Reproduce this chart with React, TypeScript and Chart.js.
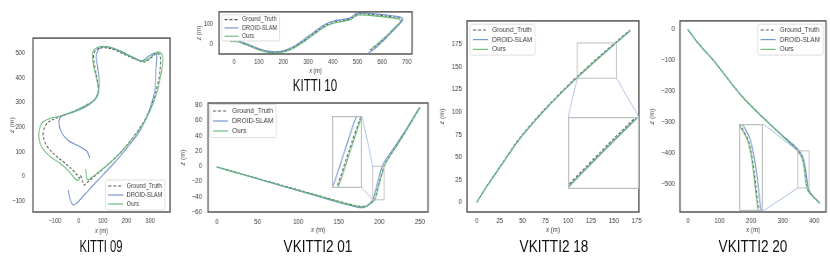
import React, { useEffect, useRef } from 'react';
import { Chart, registerables } from 'chart.js';

Chart.register(...registerables);

type XY = [number, number][];

const FONT = '"Liberation Sans", Arial, Helvetica, sans-serif';
const C_GT = '#505050';
const C_DROID = '#6a8dcc';
const C_OURS = '#62b874';
const C_FRAME = '#555555';
const C_TEXT = '#3a3a3a';
const C_ZOOM = '#bdbdbd';
const C_LINK = '#9db7e0';

const SERIES_NAMES = ['Ground_Truth', 'DROID-SLAM', 'Ours'];

// ---------------- KITTI 09 ----------------
const kitti09GroundTruth: XY = [
  [8, 4], [15, -19], [21, -35], [35, -25], [67, 1], [116, 43], [173, 95], [229, 160], [278, 231],
  [313, 309], [334, 387], [344, 458], [341, 491], [327, 500], [306, 484], [278, 465], [250, 471],
  [201, 491], [152, 513], [109, 523], [77, 517], [63, 497], [67, 445], [79, 387], [81, 342],
  [67, 313], [32, 290], [-17, 266], [-73, 244], [-108, 231], [-136, 212], [-150, 173], [-136, 127],
  [-101, 88], [-52, 49], [-17, 17], [4, -9],
];
const kitti09Droid: XY = [
  [46, 75], [35, 101], [4, 121], [-45, 147], [-73, 179], [-83, 218], [-73, 244], [-24, 261],
  [35, 286], [74, 322], [86, 374], [79, 445], [74, 491], [88, 521], [124, 526], [173, 510],
  [229, 484], [264, 469], [292, 487], [316, 500], [327, 495], [324, 432], [320, 355], [299, 277],
  [257, 186], [201, 114], [138, 43], [74, -22], [18, -81], [-13, -113], [-27, -113], [-38, -87], [-45, -55],
];
const kitti09Ours: XY = [
  [29, 30], [34, -12], [44, -12], [74, 10], [124, 49], [180, 101], [236, 166], [285, 238],
  [320, 316], [341, 394], [352, 465], [348, 497], [327, 504], [306, 487], [275, 468], [243, 475],
  [194, 497], [145, 521], [102, 529], [72, 521], [58, 500], [63, 445], [77, 387], [83, 342],
  [70, 313], [35, 290], [-17, 266], [-80, 244], [-122, 235], [-153, 218], [-168, 173], [-157, 121],
  [-122, 82], [-73, 49], [-38, 17], [-17, -9], [-3, -16], [7, -3],
];
const kitti09XTicks = [-100, 0, 100, 200, 300];
const kitti09YTicks = [-100, 0, 100, 200, 300, 400, 500];

// ---------------- KITTI 10 ----------------
const kitti10GroundTruth: XY = [
  [-16, 15], [0, 17], [15, 16], [35, 8], [60, -4], [85, -16], [110, -27], [138, -35], [165, -38],
  [190, -36], [220, -26], [250, -8], [280, 15], [310, 41], [340, 68], [370, 92], [400, 107],
  [440, 116], [470, 124], [490, 140], [505, 148], [550, 146], [600, 140], [640, 134], [670, 128],
  [679, 117], [660, 90], [632, 56], [605, 25], [575, -8], [550, -28],
];
const kitti10Droid: XY = [
  [-16, 17], [0, 19], [15, 18], [35, 11], [60, -1], [85, -13], [110, -24], [138, -32], [165, -35],
  [190, -33], [220, -22], [250, -3], [280, 21], [310, 47], [340, 74], [370, 98], [400, 113],
  [440, 121], [470, 129], [490, 146], [505, 153], [550, 151], [600, 145], [640, 139], [673, 133],
  [684, 121], [664, 92], [636, 56], [608, 22], [577, -13], [545, -40],
];
const kitti10Ours: XY = [
  [-16, 14], [0, 15], [15, 13], [35, 5], [60, -7], [85, -19], [110, -30], [138, -38], [165, -41],
  [190, -39], [220, -29], [250, -12], [280, 11], [310, 37], [340, 63], [370, 87], [400, 102],
  [440, 112], [470, 120], [490, 135], [505, 143], [550, 141], [600, 135], [640, 129], [668, 123],
  [675, 113], [655, 87], [627, 53], [600, 23], [575, -3], [560, -15],
];
const kitti10XTicks = [0, 100, 200, 300, 400, 500, 600, 700];
const kitti10YTicks = [0, 100];

// ---------------- VKITTI2 01 ----------------
const vkitti01GroundTruth: XY = [
  [0, -1], [40, -13], [80, -25], [120, -37], [150, -46], [168, -51], [178, -53], [185, -51.5],
  [190, -48], [194, -44], [200, -21], [205.7, 0], [212, 12], [222, 28], [235, 50], [250, 77],
];
const vkitti01Droid: XY = [
  [0, -1], [40, -13.5], [80, -26], [120, -38], [150, -47.5], [168, -52.5], [177, -54.5], [183, -53],
  [188, -49], [192, -44], [198, -21], [203.5, 0], [210, 12], [220.5, 28], [234, 50], [249.5, 77.5],
];
const vkitti01Ours: XY = [
  [0, -1], [40, -13], [80, -25.5], [120, -37.5], [150, -46.5], [168, -51.5], [178, -53.5], [185, -52],
  [190.3, -48], [194.6, -44], [200.6, -21], [206.1, 0], [212.3, 12], [222.3, 28], [235, 50], [250, 77],
];
const vkitti01XTicks = [0, 50, 100, 150, 200, 250];
const vkitti01YTicks = [-60, -40, -20, 0, 20, 40, 60, 80];

// ---------------- VKITTI2 18 ----------------
const vkitti18GroundTruth: XY = [
  [0, 0], [10, 16.5], [25, 39], [46, 70], [75, 104], [107, 136.6], [138, 165], [168, 191],
];
const vkitti18Droid: XY = [
  [0, 0], [10, 16], [25, 38.2], [46, 69], [75, 102.8], [107, 135.3], [138, 163.7], [168, 190],
];
const vkitti18Ours: XY = [
  [0, 0], [10, 16.2], [25, 38.4], [46, 69.3], [75, 103.2], [107, 135.7], [138, 164.1], [168, 190.3],
];
const vkitti18XTicks = [0, 25, 50, 75, 100, 125, 150, 175];
const vkitti18YTicks = [0, 25, 50, 75, 100, 125, 150, 175];

// ---------------- VKITTI2 20 ----------------
const vkitti20GroundTruth: XY = [
  [0, 0], [25, -35], [50, -65], [75, -93], [110, -138], [140, -178], [175, -221], [220, -268],
  [270, -317], [310, -355], [335, -378], [350, -395], [360, -412], [365, -428], [369, -450],
  [372, -475], [375, -500], [378, -515], [385, -528], [398, -543], [418, -563],
];
const vkitti20Droid: XY = [
  [0, 0], [25, -35], [50, -65], [75, -93], [110, -138], [140, -178], [175, -221], [220, -268],
  [270, -316], [310, -353], [336, -375], [352, -392], [362.5, -410], [368, -428], [372, -450],
  [375.5, -475], [378.5, -500], [381, -515], [387, -528], [399, -543], [418, -563],
];
const vkitti20Ours: XY = [
  [0, 0], [25, -35], [50, -65], [75, -93], [110, -138], [140, -178], [175, -221], [220, -268],
  [270, -317], [310, -356], [334, -379], [349, -396], [359, -412], [364, -428], [368, -450],
  [371, -475], [374, -500], [377, -516], [384, -529], [398, -544], [418, -563],
];
const vkitti20XTicks = [0, 100, 200, 300, 400];
const vkitti20YTicks = [-500, -400, -300, -200, -100, 0];

// ---------------- layout ----------------
interface LegendSpec {
  corner: 'ul' | 'ur' | 'lr';
  dx: number; dy: number; row: number; padV: number; padH: number;
  font: number; lineLen: number; gap: number;
}
interface InsetSpec {
  rect: [number, number, number, number];
  box: { left: number; top: number; w: number; h: number };
  links: [string, string][];
}
interface PanelSpec {
  frame: { left: number; top: number; w: number; h: number };
  mL: number; mT: number; mR: number; mB: number;
  sx: number; font: number;
  xRange: [number, number]; yRange: [number, number];
  xTicks: number[]; yTicks: number[];
  xLabelY: number; yLabelGap: number; xTitleY: number; yTitleX: number;
  series: XY[];
  legend: LegendSpec;
  inset?: InsetSpec;
  tension: number;
}

const panels: PanelSpec[] = [
  {
    frame: { left: 33, top: 30, w: 137, h: 182 }, mL: 33, mT: 6, mR: 4, mB: 26,
    sx: 0.81, font: 7, xRange: [-192, 383], yRange: [-145, 562],
    xTicks: kitti09XTicks, yTicks: kitti09YTicks,
    xLabelY: 221, yLabelGap: 8, xTitleY: 231, yTitleX: 12,
    series: [kitti09GroundTruth, kitti09Droid, kitti09Ours],
    legend: { corner: 'lr', dx: 5, dy: 2, row: 9, padV: 1.5, padH: 2.7, font: 7, lineLen: 15, gap: 3.5 },
    tension: 0.35,
  },
  {
    frame: { left: 219, top: 5, w: 193, h: 49 }, mL: 26, mT: 4, mR: 4, mB: 22,
    sx: 0.86, font: 6.5, xRange: [-61, 721], yRange: [-46, 158],
    xTicks: kitti10XTicks, yTicks: kitti10YTicks,
    xLabelY: 62, yLabelGap: 6, xTitleY: 71, yTitleX: 199,
    series: [kitti10GroundTruth, kitti10Droid, kitti10Ours],
    legend: { corner: 'ul', dx: 3, dy: 3, row: 8.3, padV: 0.6, padH: 2.5, font: 6.5, lineLen: 14, gap: 3.5 },
    tension: 0.35,
  },
  {
    frame: { left: 208, top: 96, w: 220, h: 116 }, mL: 32, mT: 4, mR: 4, mB: 26,
    sx: 0.88, font: 7, xRange: [-11, 260], yRange: [-60, 83],
    xTicks: vkitti01XTicks, yTicks: vkitti01YTicks,
    xLabelY: 222, yLabelGap: 6, xTitleY: 230.5, yTitleX: 183,
    series: [vkitti01GroundTruth, vkitti01Droid, vkitti01Ours],
    legend: { corner: 'ul', dx: 2, dy: 1.5, row: 10, padV: 1.5, padH: 3, font: 7.5, lineLen: 15, gap: 4 },
    inset: { rect: [192, 206, -44, 0], box: { left: 332, top: 116, w: 30, h: 72 }, links: [['tr', 'tl'], ['br', 'bl']] },
    tension: 0.2,
  },
  {
    frame: { left: 467, top: 15, w: 175, h: 197 }, mL: 30, mT: 4, mR: 4, mB: 26,
    sx: 0.88, font: 7, xRange: [-10.7, 177.5], yRange: [-10.7, 201],
    xTicks: vkitti18XTicks, yTicks: vkitti18YTicks,
    xLabelY: 221, yLabelGap: 5, xTitleY: 230.5, yTitleX: 442,
    series: [vkitti18GroundTruth, vkitti18Droid, vkitti18Ours],
    legend: { corner: 'ul', dx: 3, dy: 3.3, row: 9.7, padV: 0.9, padH: 3, font: 7.3, lineLen: 15, gap: 4 },
    inset: { rect: [110, 153, 137.5, 176.5], box: { left: 568, top: 117, w: 71, h: 72 }, links: [['tl', 'bl'], ['tr', 'br']] },
    tension: 0.2,
  },
  {
    frame: { left: 680, top: 15, w: 146, h: 197 }, mL: 34, mT: 4, mR: 3, mB: 26,
    sx: 0.88, font: 7, xRange: [-25, 437], yRange: [-591, 28],
    xTicks: vkitti20XTicks, yTicks: vkitti20YTicks,
    xLabelY: 221, yLabelGap: 5, xTitleY: 230.5, yTitleX: 652,
    series: [vkitti20GroundTruth, vkitti20Droid, vkitti20Ours],
    legend: { corner: 'ur', dx: 3, dy: 3.3, row: 9.7, padV: 0.9, padH: 3, font: 7.3, lineLen: 15, gap: 4 },
    inset: { rect: [348, 383, -513, -393], box: { left: 739, top: 124, w: 24, h: 87 }, links: [['tr', 'tl'], ['br', 'bl']] },
    tension: 0.2,
  },
];

const captions = [
  { text: 'KITTI 09', cx: 101, cy: 247, sx: 0.66 },
  { text: 'KITTI 10', cx: 315, cy: 86, sx: 0.68 },
  { text: 'VKITTI2 01', cx: 318, cy: 247, sx: 0.8 },
  { text: 'VKITTI2 18', cx: 554, cy: 247, sx: 0.8 },
  { text: 'VKITTI2 20', cx: 753, cy: 247, sx: 0.8 },
];

const fmt = (v: number) => (v < 0 ? '\u2212' + Math.abs(v) : String(v));
const toPoints = (a: XY) => a.map(([x, y]) => ({ x, y }));

function buildDatasets(series: XY[], tension: number, width: number) {
  const styles = [
    { color: C_GT, dash: [3, 2], order: 2 },
    { color: C_DROID, dash: [] as number[], order: 1 },
    { color: C_OURS, dash: [] as number[], order: 0 },
  ];
  return series.map((s, i) => ({
    label: SERIES_NAMES[i],
    data: toPoints(s),
    showLine: true,
    borderColor: styles[i].color,
    backgroundColor: styles[i].color,
    borderDash: styles[i].dash,
    borderWidth: width,
    pointRadius: 0,
    pointHoverRadius: 0,
    tension,
    fill: false,
    order: styles[i].order,
  }));
}

function drawMathTitle(ctx: CanvasRenderingContext2D, sym: string, size: number, cx: number, cy: number, rotate: boolean) {
  ctx.save();
  ctx.translate(cx, cy);
  if (rotate) ctx.rotate(-Math.PI / 2);
  const it = `italic ${size}px ${FONT}`;
  const nm = `${size}px ${FONT}`;
  ctx.font = it;
  const w1 = ctx.measureText(sym).width;
  ctx.font = nm;
  const rest = ' (m)';
  const w2 = ctx.measureText(rest).width;
  const x0 = -(w1 + w2) / 2;
  ctx.fillStyle = C_TEXT;
  ctx.textBaseline = 'middle';
  ctx.textAlign = 'left';
  ctx.font = it;
  ctx.fillText(sym, x0, 0);
  ctx.font = nm;
  ctx.fillText(rest, x0 + w1, 0);
  ctx.restore();
}

function Panel({ spec }: { spec: PanelSpec }) {
  const mainRef = useRef<HTMLCanvasElement>(null);
  const insetRef = useRef<HTMLCanvasElement>(null);
  const { frame, mL, mT, mR, mB } = spec;
  const pageLeft = frame.left - mL;
  const pageTop = frame.top - mT;
  const pageW = mL + frame.w + mR;
  const pageH = mT + frame.h + mB;
  const iw = Math.round(pageW / spec.sx);
  const sxe = pageW / iw;
  const ib = spec.inset ? spec.inset.box : null;
  const iiw = ib ? Math.round(ib.w / spec.sx) : 0;
  const isx = ib ? ib.w / iiw : 1;

  useEffect(() => {
    const lh = spec.font * 1.2;
    const tickFont = { family: FONT, size: spec.font };
    const cornerPage = (c: string): [number, number] => {
      const b = spec.inset!.box;
      return [c[1] === 'r' ? b.left + b.w : b.left, c[0] === 'b' ? b.top + b.h : b.top];
    };
    const deco = {
      id: 'deco',
      afterDraw(chart: any) {
        const { ctx, chartArea: ca, scales } = chart;
        ctx.save();
        ctx.strokeStyle = C_FRAME;
        ctx.lineWidth = 1.5;
        ctx.strokeRect(ca.left, ca.top, ca.right - ca.left, ca.bottom - ca.top);
        // axis titles
        drawMathTitle(ctx, 'x', spec.font, (ca.left + ca.right) / 2, spec.xTitleY - pageTop, false);
        drawMathTitle(ctx, 'z', spec.font, (spec.yTitleX - pageLeft) / sxe, (ca.top + ca.bottom) / 2, true);
        if (spec.inset) {
          const [x0, x1, y0, y1] = spec.inset.rect;
          const px = (v: number) => scales.x.getPixelForValue(v);
          const py = (v: number) => scales.y.getPixelForValue(v);
          const rc: Record<string, [number, number]> = {
            tl: [px(x0), py(y1)], tr: [px(x1), py(y1)], bl: [px(x0), py(y0)], br: [px(x1), py(y0)],
          };
          ctx.strokeStyle = C_ZOOM;
          ctx.lineWidth = 1;
          ctx.strokeRect(px(x0), py(y1), px(x1) - px(x0), py(y0) - py(y1));
          ctx.strokeStyle = C_LINK;
          ctx.lineWidth = 0.9;
          for (const [ic, rcn] of spec.inset.links) {
            const [qx, qy] = cornerPage(ic);
            ctx.beginPath();
            ctx.moveTo((qx - pageLeft) / sxe, qy - pageTop);
            ctx.lineTo(rc[rcn][0], rc[rcn][1]);
            ctx.stroke();
          }
        }
        // legend
        const L = spec.legend;
        ctx.font = `${L.font}px ${FONT}`;
        const tw = Math.max(...SERIES_NAMES.map((n) => ctx.measureText(n).width));
        const padH = L.padH / sxe;
        const lineLen = L.lineLen / sxe;
        const gap = L.gap / sxe;
        const bw = padH * 2 + lineLen + gap + tw;
        const bh = L.padV * 2 + L.row * 3;
        const bx = L.corner[1] === 'l' ? ca.left + L.dx / sxe : ca.right - L.dx / sxe - bw;
        const by = L.corner[0] === 'u' ? ca.top + L.dy : ca.bottom - L.dy - bh;
        ctx.fillStyle = 'rgba(255,255,255,0.9)';
        ctx.strokeStyle = '#d6d6d6';
        ctx.lineWidth = 0.8;
        ctx.beginPath();
        if ((ctx as any).roundRect) (ctx as any).roundRect(bx, by, bw, bh, 2);
        else ctx.rect(bx, by, bw, bh);
        ctx.fill();
        ctx.stroke();
        const colors = [C_GT, C_DROID, C_OURS];
        for (let i = 0; i < 3; i++) {
          const cy = by + L.padV + L.row * (i + 0.5);
          ctx.strokeStyle = colors[i];
          ctx.lineWidth = 1.1;
          ctx.setLineDash(i === 0 ? [3 / sxe, 2 / sxe] : []);
          ctx.beginPath();
          ctx.moveTo(bx + padH, cy);
          ctx.lineTo(bx + padH + lineLen, cy);
          ctx.stroke();
          ctx.setLineDash([]);
          ctx.fillStyle = C_TEXT;
          ctx.textBaseline = 'middle';
          ctx.textAlign = 'left';
          ctx.font = `${L.font}px ${FONT}`;
          ctx.fillText(SERIES_NAMES[i], bx + padH + lineLen + gap, cy);
        }
        ctx.restore();
      },
    };

    const main = new Chart(mainRef.current!, {
      type: 'scatter',
      data: { datasets: buildDatasets(spec.series, spec.tension, 1.1) as any },
      options: {
        responsive: false,
        animation: false,
        devicePixelRatio: 1,
        events: [],
        layout: { autoPadding: false, padding: { left: 0, top: mT, right: mR / sxe, bottom: 0 } },
        plugins: { legend: { display: false }, tooltip: { enabled: false } },
        scales: {
          x: {
            type: 'linear',
            min: spec.xRange[0],
            max: spec.xRange[1],
            afterBuildTicks: (s: any) => { s.ticks = spec.xTicks.map((v) => ({ value: v })); },
            afterFit: (s: any) => { s.height = mB; },
            grid: { display: false, drawTicks: false },
            border: { display: false },
            ticks: {
              font: tickFont, color: C_TEXT, maxRotation: 0, minRotation: 0, autoSkip: false,
              padding: spec.xLabelY - (frame.top + frame.h) - lh / 2,
              callback: (v: any) => fmt(Number(v)),
            },
            title: { display: false },
          },
          y: {
            type: 'linear',
            min: spec.yRange[0],
            max: spec.yRange[1],
            afterBuildTicks: (s: any) => { s.ticks = spec.yTicks.map((v) => ({ value: v })); },
            afterFit: (s: any) => { s.width = mL / sxe; },
            grid: { display: false, drawTicks: false },
            border: { display: false },
            ticks: {
              font: tickFont, color: C_TEXT, autoSkip: false,
              padding: spec.yLabelGap / sxe,
              callback: (v: any) => fmt(Number(v)),
            },
            title: { display: false },
          },
        },
      } as any,
      plugins: [deco],
    });

    let inset: Chart | null = null;
    if (spec.inset && insetRef.current) {
      const r = spec.inset.rect;
      inset = new Chart(insetRef.current, {
        type: 'scatter',
        data: { datasets: buildDatasets(spec.series, spec.tension, 1.1) as any },
        options: {
          responsive: false,
          animation: false,
          devicePixelRatio: 1,
          events: [],
          layout: { autoPadding: false, padding: 0 },
          plugins: { legend: { display: false }, tooltip: { enabled: false } },
          scales: {
            x: { type: 'linear', display: false, min: r[0], max: r[1] },
            y: { type: 'linear', display: false, min: r[2], max: r[3] },
          },
        } as any,
        plugins: [
          {
            id: 'insetFrame',
            beforeDraw(chart: any) {
              const { ctx, width, height } = chart;
              ctx.save();
              ctx.fillStyle = '#ffffff';
              ctx.fillRect(0, 0, width, height);
              ctx.restore();
            },
            afterDraw(chart: any) {
              const { ctx, width, height } = chart;
              ctx.save();
              ctx.strokeStyle = C_ZOOM;
              ctx.lineWidth = 1.2;
              ctx.strokeRect(0.6, 0.6, width - 1.2, height - 1.2);
              ctx.restore();
            },
          },
        ],
      });
    }
    return () => {
      main.destroy();
      if (inset) inset.destroy();
    };
  }, []);

  return (
    <>
      <div style={{ position: 'absolute', left: pageLeft, top: pageTop, width: pageW, height: pageH }}>
        <div style={{ width: iw, height: pageH, transform: `scaleX(${sxe})`, transformOrigin: '0 0' }}>
          <canvas ref={mainRef} width={iw} height={pageH} style={{ width: iw, height: pageH, display: 'block' }} />
        </div>
      </div>
      {ib && (
        <div style={{ position: 'absolute', left: ib.left, top: ib.top, width: ib.w, height: ib.h }}>
          <div style={{ width: iiw, height: ib.h, transform: `scaleX(${isx})`, transformOrigin: '0 0' }}>
            <canvas ref={insetRef} width={iiw} height={ib.h} style={{ width: iiw, height: ib.h, display: 'block' }} />
          </div>
        </div>
      )}
    </>
  );
}

export default function App() {
  return (
    <div style={{ position: 'fixed', left: 0, top: 0, width: 830, height: 258, background: '#ffffff', overflow: 'hidden' }}>
      {panels.map((p, i) => (
        <Panel key={i} spec={p} />
      ))}
      {captions.map((c) => (
        <div
          key={c.text}
          style={{
            position: 'absolute', left: c.cx - 100, top: c.cy - 10, width: 200, height: 20,
            lineHeight: '20px', textAlign: 'center', fontFamily: FONT, fontSize: 17, color: '#111',
            transform: `scaleX(${c.sx})`, transformOrigin: '50% 50%', whiteSpace: 'nowrap',
          }}
        >
          {c.text}
        </div>
      ))}
    </div>
  );
}
